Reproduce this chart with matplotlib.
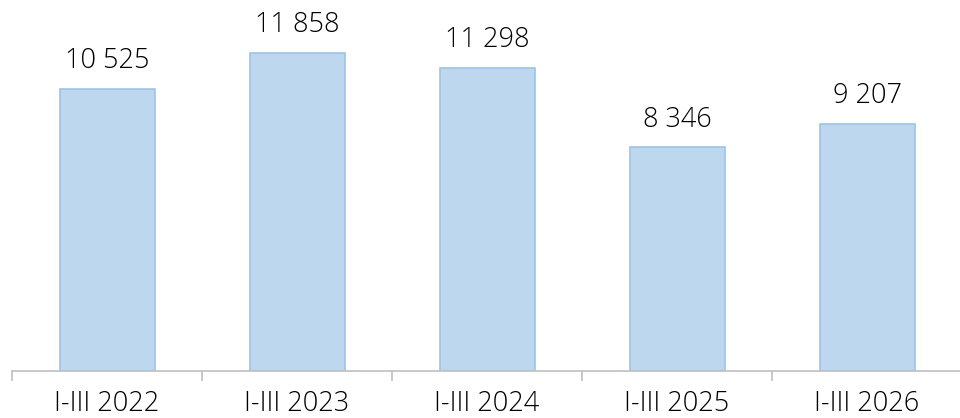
import numpy as np
import matplotlib.pyplot as plt

plt.rcParams['font.family'] = ['Open Sans', 'DejaVu Sans']

periods = ['I-III 2022', 'I-III 2023', 'I-III 2024', 'I-III 2025', 'I-III 2026']
values = [10525, 11858, 11298, 8346, 9207]

def fmt(v):
    return f'{v:,}'.replace(',', ' ')

fig = plt.figure(figsize=(9.6, 4.18), dpi=100)
ax = fig.add_axes([0.0125, 0.1124, 0.9896, 0.8333])

x = np.arange(len(periods))
bars = ax.bar(x, values, width=0.5, color='#BDD7EE', edgecolor='#9DC3E6', linewidth=1.2)

for xi, v in zip(x, values):
    ax.annotate(fmt(v), (xi, v), xytext=(0, 15), textcoords='offset points',
                ha='center', va='baseline', fontsize=19.5, fontweight='light',
                color='#000000')

ax.set_xlim(-0.5, len(periods) - 0.5)
ax.set_ylim(0, 13000)

ax.set_xticks(x)
ax.set_xticklabels(periods, fontsize=19.5, fontweight='light')
ax.tick_params(axis='x', which='major', length=0, pad=14)
ax.set_xticks(np.arange(len(periods) + 1) - 0.5, minor=True)
ax.tick_params(axis='x', which='minor', length=7, color='#BFBFBF', width=1.2)
ax.set_yticks([])

for side in ['top', 'right', 'left']:
    ax.spines[side].set_visible(False)
ax.spines['bottom'].set_color('#BFBFBF')
ax.spines['bottom'].set_linewidth(1.2)

fig.savefig('out.png', dpi=100)
